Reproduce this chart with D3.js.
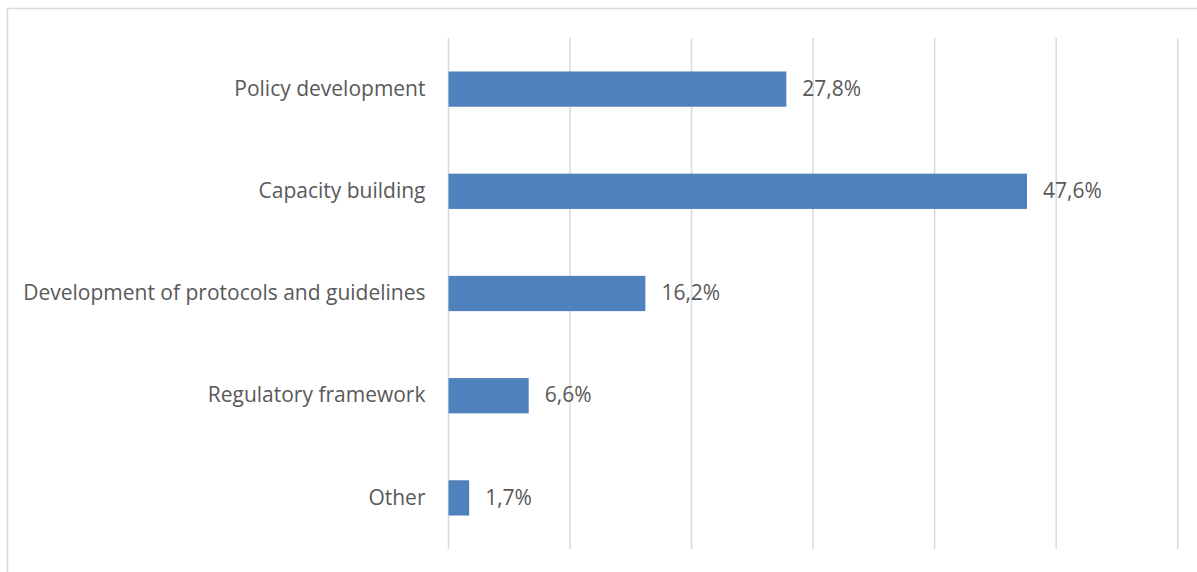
<!DOCTYPE html>
<html>
<head>
<meta charset="utf-8">
<script src="https://cdn.jsdelivr.net/npm/d3@7"></script>
<style>
  html, body { margin: 0; padding: 0; background: #fff; }
  svg { display: block; }
  text { font-family: "Open Sans", Lato, sans-serif; fill: #595959; }
</style>
</head>
<body>
<svg id="chart" width="1197" height="572"></svg>
<script>
const categories = [
  "Policy development",
  "Capacity building",
  "Development of protocols and guidelines",
  "Regulatory framework",
  "Other"
];
const values = [27.8, 47.6, 16.2, 6.6, 1.7];
const valueLabels = ["27,8%", "47,6%", "16,2%", "6,6%", "1,7%"];
const xTicks = [0, 10, 20, 30, 40, 50, 60];

const svg = d3.select("#chart");
const W = 1197, H = 572;
const fontSize = 21;

// chart frame
svg.append("rect")
  .attr("x", 7.5).attr("y", 8.5)
  .attr("width", W + 10).attr("height", H + 10)
  .attr("fill", "#fff")
  .attr("stroke", "#d9d9d9").attr("stroke-width", 1.5);

const plotLeft = 448.5, plotRight = 1177.7, plotTop = 38, plotBottom = 549;

const x = d3.scaleLinear().domain([0, 60]).range([plotLeft, plotRight]);
const y = d3.scaleBand().domain(categories).range([plotTop, plotBottom]).paddingInner(0.655).paddingOuter(0.3275);

// vertical gridlines
svg.append("g")
  .selectAll("line")
  .data(xTicks)
  .join("line")
  .attr("x1", d => x(d)).attr("x2", d => x(d))
  .attr("y1", plotTop).attr("y2", plotBottom)
  .attr("stroke", "#d9d9d9").attr("stroke-width", 1.5);

// bars
svg.append("g")
  .selectAll("rect")
  .data(values)
  .join("rect")
  .attr("x", x(0))
  .attr("y", (d, i) => y(categories[i]))
  .attr("width", d => x(d) - x(0))
  .attr("height", y.bandwidth())
  .attr("fill", "#4f81bd");

// value labels
svg.append("g")
  .selectAll("text")
  .data(values)
  .join("text")
  .attr("x", d => x(d) + 16)
  .attr("y", (d, i) => y(categories[i]) + y.bandwidth() / 2)
  .attr("dy", "0.32em")
  .attr("font-size", fontSize)
  .text((d, i) => valueLabels[i]);

// category labels
svg.append("g")
  .selectAll("text")
  .data(categories)
  .join("text")
  .attr("x", plotLeft - 23)
  .attr("y", d => y(d) + y.bandwidth() / 2)
  .attr("dy", "0.32em")
  .attr("text-anchor", "end")
  .attr("font-size", fontSize)
  .text(d => d);
</script>
</body>
</html>
